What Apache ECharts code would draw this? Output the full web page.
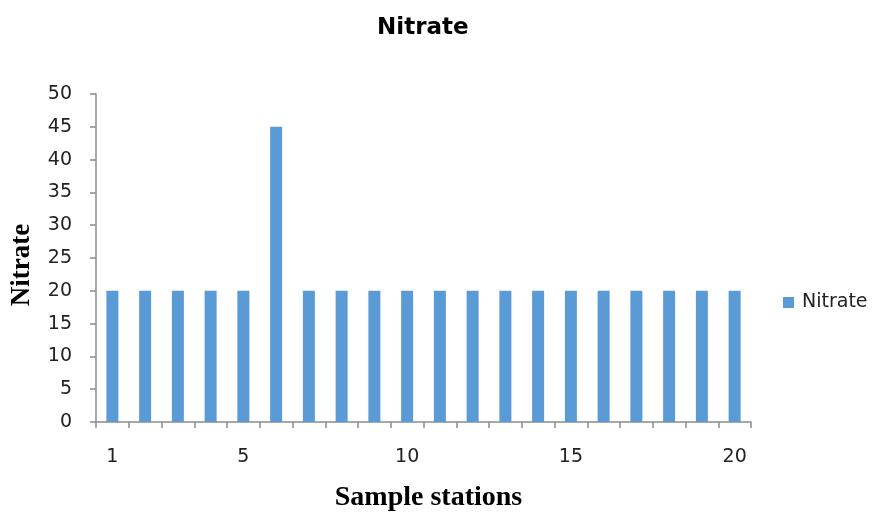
<!DOCTYPE html>
<html>
<head>
<meta charset="utf-8">
<script src="https://cdn.jsdelivr.net/npm/echarts@6/dist/echarts.min.js"></script>
<style>
  html, body { margin: 0; padding: 0; background: #ffffff; }
  #chart { width: 884px; height: 514px; }
</style>
</head>
<body>
<div id="chart"></div>
<script>
// Sample station numbers along the x axis
const stations = ['1','2','3','4','5','6','7','8','9','10','11','12','13','14','15','16','17','18','19','20'];
// Nitrate measured at each station
const nitrate = [20, 20, 20, 20, 20, 45, 20, 20, 20, 20, 20, 20, 20, 20, 20, 20, 20, 20, 20, 20];
// Stations whose number is printed under the axis
const labelledStations = ['1', '5', '10', '15', '20'];

const axisGray = '#8c8c8c';
const textDark = '#222222';
const chart = echarts.init(document.getElementById('chart'));

chart.setOption({
  animation: false,
  backgroundColor: '#ffffff',
  title: {
    text: 'Nitrate',
    left: 372,
    top: 12,
    textStyle: { fontFamily: 'DejaVu Sans', fontWeight: 'bold', fontSize: 23, color: '#000000' }
  },
  legend: {
    data: ['Nitrate'],
    orient: 'vertical',
    left: 778,
    top: 288,
    itemWidth: 11,
    itemHeight: 11,
    itemGap: 6,
    icon: 'rect',
    textStyle: { fontFamily: 'DejaVu Sans', fontSize: 19, color: textDark, padding: [0, 0, 0, 3] }
  },
  grid: { left: 96, right: 133, top: 94, bottom: 92, containLabel: false, outerBoundsMode: 'none' },
  xAxis: {
    type: 'category',
    data: stations,
    name: 'Sample stations',
    nameLocation: 'middle',
    nameGap: 62,
    nameTextStyle: { fontFamily: 'Liberation Serif', fontWeight: 'bold', fontSize: 28, color: '#000000', padding: [0, 0, 0, 10] },
    axisLine: { lineStyle: { color: axisGray, width: 1.5 } },
    axisTick: { show: true, interval: 0, length: 6, alignWithLabel: false, lineStyle: { color: axisGray, width: 1.5 } },
    axisLabel: {
      interval: 0,
      formatter: v => (labelledStations.includes(v) ? v : ''),
      margin: 26,
      fontFamily: 'DejaVu Sans',
      fontSize: 19,
      color: textDark
    },
    splitLine: { show: false }
  },
  yAxis: {
    type: 'value',
    min: 0,
    max: 50,
    interval: 5,
    name: 'Nitrate',
    nameLocation: 'middle',
    nameGap: 60,
    nameRotate: 90,
    nameTextStyle: { fontFamily: 'Liberation Serif', fontWeight: 'bold', fontSize: 27, color: '#000000', padding: [0, 14, 0, 0] },
    axisLine: { show: true, lineStyle: { color: axisGray, width: 1.5 } },
    axisTick: { show: true, length: 6, lineStyle: { color: axisGray, width: 1.5 } },
    axisLabel: { margin: 24, fontFamily: 'DejaVu Sans', fontSize: 19, color: textDark },
    splitLine: { show: false }
  },
  series: [{
    name: 'Nitrate',
    type: 'bar',
    data: nitrate,
    barWidth: 12,
    itemStyle: { color: '#5b9bd5' }
  }]
});
</script>
</body>
</html>
